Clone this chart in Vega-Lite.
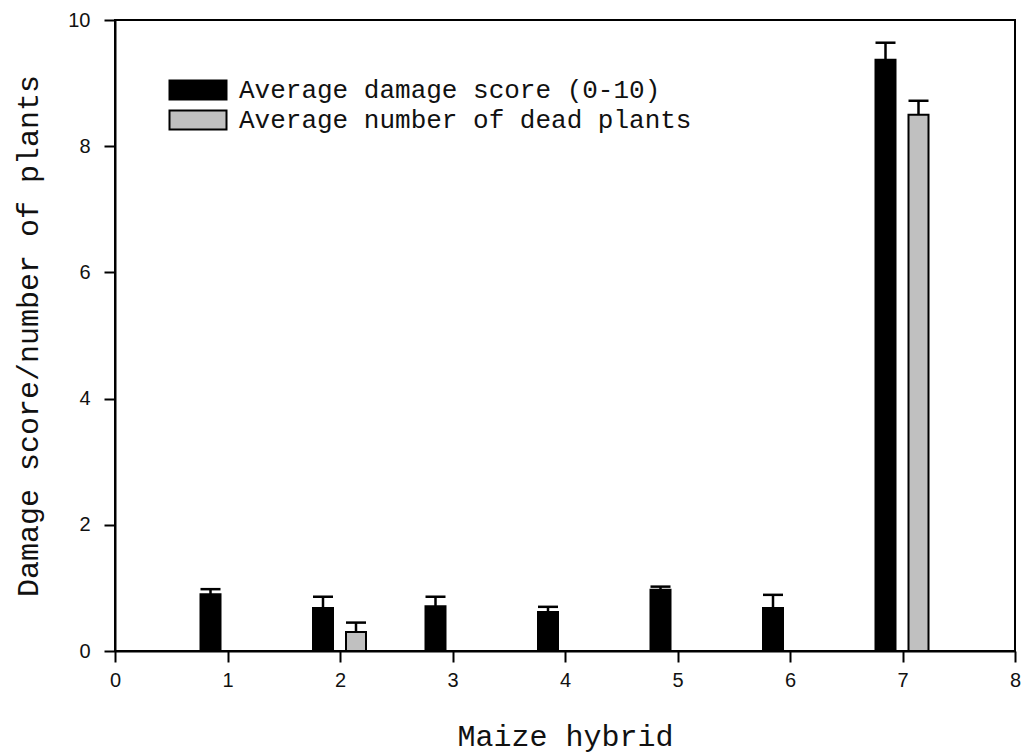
{
  "$schema": "https://vega.github.io/schema/vega-lite/v6.json",
  "width": 900,
  "height": 631,
  "autosize": {"type": "none"},
  "padding": {"left": 115, "top": 20, "right": 12, "bottom": 102},
  "background": "white",
  "config": {
    "view": {"stroke": "black", "strokeWidth": 2},
    "axis": {
      "domainColor": "black", "domainWidth": 2,
      "tickColor": "black", "tickWidth": 2, "tickSize": 11,
      "grid": false, "labelFlush": false,
      "labelFont": "Liberation Sans", "labelFontSize": 20, "labelColor": "#111",
      "titleFont": "Liberation Mono", "titleFontSize": 30, "titleFontWeight": "normal", "titleColor": "#111"
    }
  },
  "data": {
    "values": [
      {"hybrid": 1, "series": "Average damage score (0-10)", "mean": 0.90, "upper": 0.98},
      {"hybrid": 2, "series": "Average damage score (0-10)", "mean": 0.68, "upper": 0.86},
      {"hybrid": 2, "series": "Average number of dead plants", "mean": 0.30, "upper": 0.45},
      {"hybrid": 3, "series": "Average damage score (0-10)", "mean": 0.71, "upper": 0.86},
      {"hybrid": 4, "series": "Average damage score (0-10)", "mean": 0.62, "upper": 0.70},
      {"hybrid": 5, "series": "Average damage score (0-10)", "mean": 0.97, "upper": 1.02},
      {"hybrid": 6, "series": "Average damage score (0-10)", "mean": 0.68, "upper": 0.89},
      {"hybrid": 7, "series": "Average damage score (0-10)", "mean": 9.37, "upper": 9.64},
      {"hybrid": 7, "series": "Average number of dead plants", "mean": 8.50, "upper": 8.72}
    ]
  },
  "encoding": {
    "x": {
      "field": "hybrid", "type": "quantitative",
      "scale": {"domain": [0, 8], "nice": false, "zero": false, "padding": 0},
      "axis": {"values": [0,1,2,3,4,5,6,7,8], "title": "Maize hybrid", "labelPadding": 8, "titlePadding": 31}
    }
  },
  "layer": [
    {
      "transform": [{"filter": "datum.series === 'Average damage score (0-10)'"}],
      "mark": {"type": "rule", "strokeWidth": 2.5, "color": "black", "xOffset": -17},
      "encoding": {
        "y": {"field": "mean", "type": "quantitative"},
        "y2": {"field": "upper"}
      }
    },
    {
      "transform": [{"filter": "datum.series === 'Average damage score (0-10)'"}],
      "mark": {"type": "tick", "orient": "horizontal", "size": 20, "thickness": 2.5, "color": "black", "opacity": 1, "xOffset": -17},
      "encoding": {
        "y": {"field": "upper", "type": "quantitative"}
      }
    },
    {
      "transform": [{"filter": "datum.series === 'Average number of dead plants'"}],
      "mark": {"type": "rule", "strokeWidth": 2.5, "color": "black", "xOffset": 16},
      "encoding": {
        "y": {"field": "mean", "type": "quantitative"},
        "y2": {"field": "upper"}
      }
    },
    {
      "transform": [{"filter": "datum.series === 'Average number of dead plants'"}],
      "mark": {"type": "tick", "orient": "horizontal", "size": 20, "thickness": 2.5, "color": "black", "opacity": 1, "xOffset": 16},
      "encoding": {
        "y": {"field": "upper", "type": "quantitative"}
      }
    },
    {
      "transform": [{"filter": "datum.series === 'Average damage score (0-10)'"}],
      "mark": {"type": "bar", "width": 20, "stroke": "black", "strokeWidth": 2, "opacity": 1, "xOffset": -17},
      "encoding": {
        "y": {
          "field": "mean", "type": "quantitative", "stack": null,
          "scale": {"domain": [0, 10], "nice": false},
          "axis": {"values": [0,2,4,6,8,10], "format": "d", "title": "Damage score/number of plants", "labelPadding": 14, "titlePadding": 24}
        },
        "color": {
          "field": "series", "type": "nominal",
          "scale": {"domain": ["Average damage score (0-10)", "Average number of dead plants"], "range": ["black", "#c0c0c0"]},
          "legend": {
            "title": null,
            "orient": "none",
            "legendX": 70,
            "legendY": 57,
            "padding": 0,
            "symbolType": "M-3,-1H3V1H-3Z",
            "symbolSize": 361,
            "symbolStrokeColor": "black",
            "symbolStrokeWidth": 2,
            "symbolOpacity": 1,
            "labelFont": "Liberation Mono",
            "labelFontSize": 26,
            "labelColor": "#111",
            "labelOffset": 28,
            "labelLimit": 600,
            "rowPadding": 2
          }
        }
      }
    },
    {
      "transform": [{"filter": "datum.series === 'Average number of dead plants'"}],
      "mark": {"type": "bar", "width": 20, "stroke": "black", "strokeWidth": 2, "opacity": 1, "xOffset": 16},
      "encoding": {
        "y": {"field": "mean", "type": "quantitative", "stack": null},
        "color": {"field": "series", "type": "nominal"}
      }
    }
  ]
}
